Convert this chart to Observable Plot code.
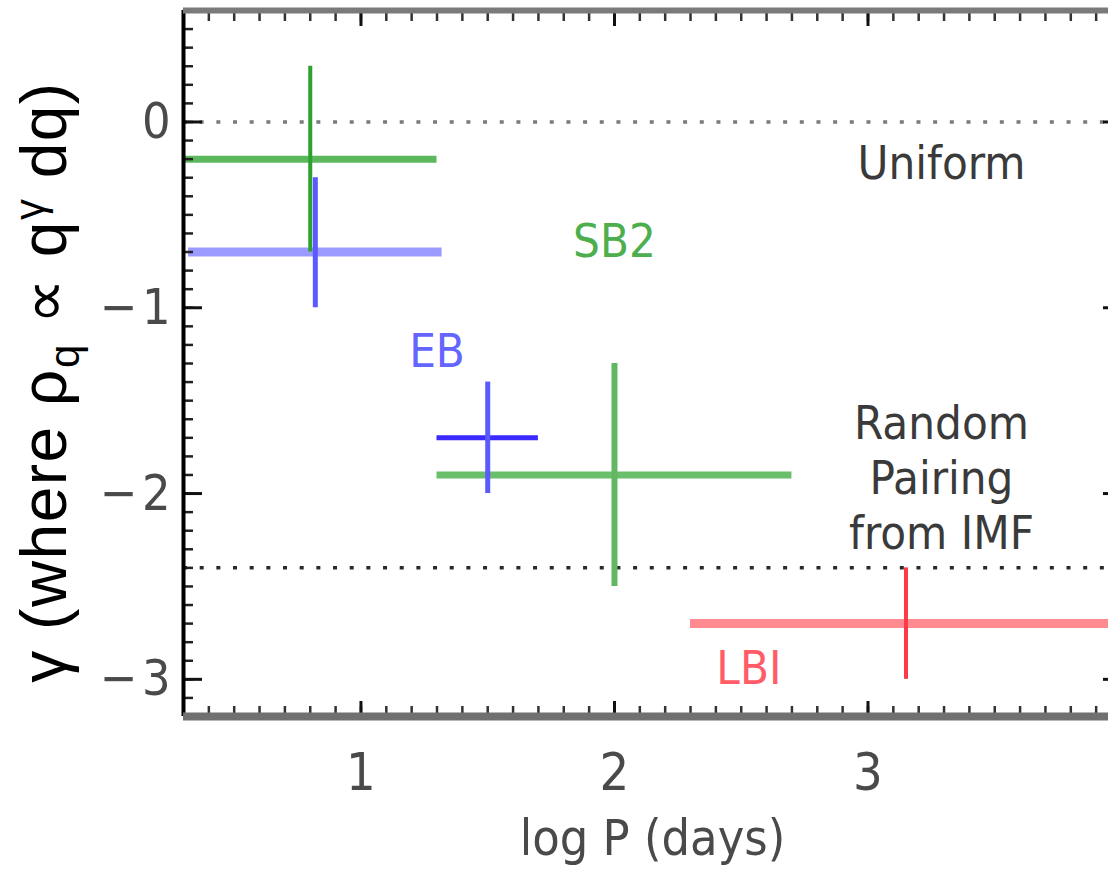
<!DOCTYPE html>
<html>
<head>
<meta charset="utf-8">
<script src="https://cdn.jsdelivr.net/npm/d3@7"></script>
<script src="https://cdn.jsdelivr.net/npm/@observablehq/plot@0.6"></script>
<style>
  html, body { margin: 0; padding: 0; overflow: hidden; background: #fff; }
  #chart svg { display: block; max-width: none !important; height: 869px !important; }
</style>
</head>
<body>
<div id="chart"></div>
<script>
// ---- data ----
const series   = ["SB2", "EB", "EB", "SB2", "LBI"];
const logP     = [0.80, 0.82, 1.50, 2.00, 3.15];
const logPLo   = [0.30, 0.32, 1.30, 1.30, 2.30];
const logPHi   = [1.30, 1.32, 1.70, 2.70, 4.00];
const gamma    = [-0.2, -0.7, -1.7, -1.9, -2.7];
const gammaLo  = [-0.7, -1.0, -2.0, -2.5, -3.0];
const gammaHi  = [ 0.3, -0.3, -1.4, -1.3, -2.4];

const refLines = [0, -2.4];

const noteText = ["Uniform", "SB2", "EB", "Random\nPairing\nfrom IMF", "LBI"];
const noteX    = [3.29, 2.00, 1.30, 3.29, 2.53];
const noteY    = [-0.21, -0.63, -1.225, -1.91, -2.93];

const xTicks = [1, 2, 3];
const xTickLabels = ["1", "2", "3"];
const yTicks = [0, -1, -2, -3];
const yTickLabels = ["0", "\u2212\u200A1", "\u2212\u200A2", "\u2212\u200A3"];

const xDomain = [0.3, 4.0];
const yDomain = [-3.2, 0.6];
const xLabel = "log P (days)";

// ---- styles ----
const barStyle = [
  {v: "#2ea02e", vw: 4, h: "#5cb85c", hw: 7},
  {v: "#5a5aff", vw: 5, h: "#9b9bff", hw: 9},
  {v: "#5a5aff", vw: 5, h: "#3a2aff", hw: 5},
  {v: "#62b862", vw: 6, h: "#6abf6a", hw: 7},
  {v: "#ff3a48", vw: 4, h: "#ff8a90", hw: 9}
];
const noteColor = ["#3a3a3a", "#4cae4c", "#6464ff", "#3a3a3a", "#ff5c68"];
const refStyle = [
  {stroke: "#7a7a7a"},
  {stroke: "#2a2a2a"}
];
const narrow = "'Liberation Sans Narrow', 'DejaVu Sans Condensed', 'Liberation Sans', sans-serif";

const rows = series.map((s, i) => ({
  i, series: s, x: logP[i], x1: logPLo[i], x2: logPHi[i],
  y: gamma[i], y1: gammaLo[i], y2: gammaHi[i]
}));
const notes = noteText.map((t, i) => ({i, text: t, x: noteX[i], y: noteY[i]}));
const refs = refLines.map((v, i) => ({i, v}));

const xMinor = d3.range(3, 41).map(k => k / 10);
const yMinor = d3.range(-32, 7).map(k => k / 10);

const svg = Plot.plot({
  width: 1130,
  height: 869,
  marginLeft: 183,
  marginRight: 9,
  marginTop: 10,
  marginBottom: 153,
  x: {domain: xDomain, axis: null},
  y: {domain: yDomain, axis: null},
  style: {fontFamily: narrow, fontSize: "47px", background: "#fff", color: "#333", overflow: "visible", maxWidth: "none"},
  marks: [
    // reference dotted lines
    Plot.ruleY(refs, {y: "v", stroke: d => refStyle[d.i].stroke, strokeWidth: 3.5, strokeDasharray: "4,12.67"}),
    // horizontal error bars
    Plot.ruleY(rows, {y: "y", x1: "x1", x2: "x2", stroke: d => barStyle[d.i].h, strokeWidth: d => barStyle[d.i].hw}),
    // vertical error bars
    Plot.ruleX(rows, {x: "x", y1: "y1", y2: "y2", stroke: d => barStyle[d.i].v, strokeWidth: d => barStyle[d.i].vw}),
    // annotations
    Plot.text(notes, {x: "x", y: "y", text: "text", fill: d => noteColor[d.i], fontSize: 47, lineHeight: 1.17, textAnchor: "middle", lineAnchor: "middle"}),
    // minor / major ticks (inward)
    Plot.axisY(yMinor, {anchor: "left", tickSize: -10, fill: "none", stroke: "#222", strokeWidth: 2.5}),
    Plot.axisY(yTicks, {anchor: "left", tickSize: -19, fill: "none", stroke: "#111", strokeWidth: 3}),
    Plot.axisY(yMinor, {anchor: "right", tickSize: -10, fill: "none", stroke: "#222", strokeWidth: 2.5}),
    Plot.axisY(yTicks, {anchor: "right", tickSize: -19, fill: "none", stroke: "#111", strokeWidth: 3}),
    Plot.axisX(xMinor, {anchor: "bottom", tickSize: -10, fill: "none", stroke: "#333", strokeWidth: 2.5}),
    Plot.axisX(xTicks, {anchor: "bottom", tickSize: -15, fill: "none", stroke: "#111", strokeWidth: 3}),
    Plot.axisX(xMinor, {anchor: "top", tickSize: -10, fill: "none", stroke: "#333", strokeWidth: 2.5}),
    Plot.axisX(xTicks, {anchor: "top", tickSize: -15, fill: "none", stroke: "#111", strokeWidth: 3}),
    // frame
    Plot.ruleX([xDomain[0]], {stroke: "#000", strokeWidth: 4}),
    Plot.ruleX([xDomain[1]], {stroke: "#000", strokeWidth: 4}),
    Plot.ruleY([yDomain[1]], {stroke: "#7a7a7a", strokeWidth: 6}),
    Plot.ruleY([yDomain[0]], {stroke: "#707070", strokeWidth: 8}),
    // tick labels
    Plot.text(yTicks, {y: d => d, text: (d, i) => yTickLabels[i], frameAnchor: "left", dx: -13, textAnchor: "end", lineAnchor: "middle", fill: "#4a4a4a", fontSize: 50}),
    Plot.text(xTicks, {x: d => d, text: (d, i) => xTickLabels[i], frameAnchor: "bottom", dy: 37, textAnchor: "middle", lineAnchor: "top", fill: "#4a4a4a", fontSize: 52}),
    // x-axis title
    Plot.text([xLabel], {text: d => d, frameAnchor: "bottom", dy: 122, textAnchor: "middle", lineAnchor: "middle", fill: "#4a4a4a", fontSize: 50})
  ]
});

// y-axis title with sub/superscripts
const yl = d3.select(svg).append("text")
  .attr("transform", "translate(66,382) rotate(-90)")
  .attr("text-anchor", "middle")
  .attr("font-family", "'Liberation Sans', Arial, sans-serif")
  .attr("font-size", 64)
  .attr("letter-spacing", "1.5px")
  .attr("fill", "#000");
yl.append("tspan").text("\u03B3 (where \u03C1");
yl.append("tspan").attr("font-size", 42).attr("dy", 13).text("q");
yl.append("tspan").attr("dy", -13).text(" \u221D q");
yl.append("tspan").attr("font-size", 42).attr("dy", -22).text("\u03B3");
yl.append("tspan").attr("dy", 22).text(" dq)");

document.getElementById("chart").appendChild(svg);
</script>
</body>
</html>
